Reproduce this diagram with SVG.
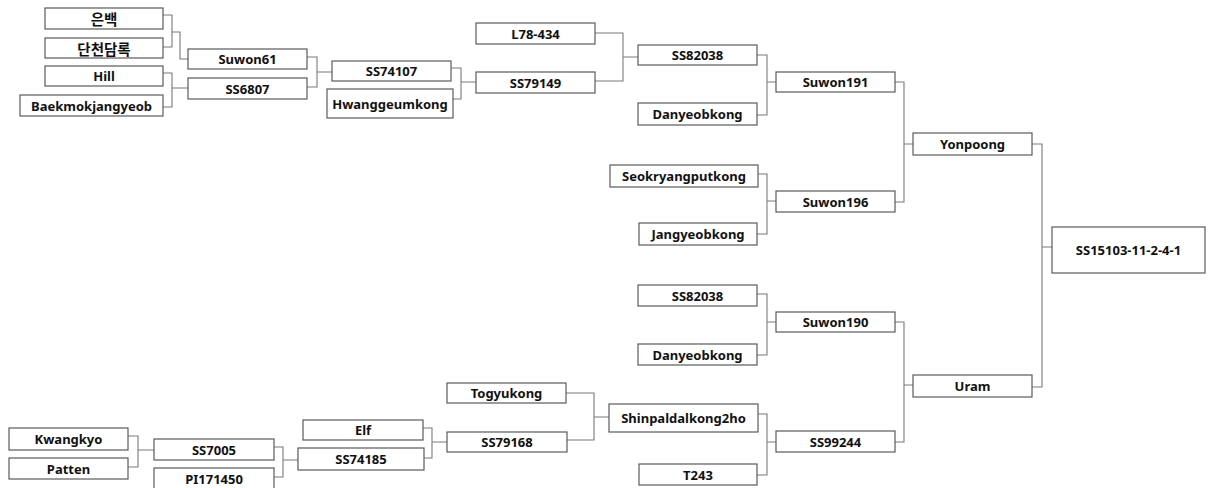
<svg xmlns="http://www.w3.org/2000/svg" width="1208" height="488" viewBox="0 0 1208 488">
<style>
rect{fill:#fff;stroke:#5a5a5a;stroke-width:1.2}
text{font-family:"Noto Sans","Noto Sans CJK KR",sans-serif;font-weight:bold;font-size:13px;fill:#111;text-anchor:middle;dominant-baseline:central}
text.ko{font-family:"Noto Sans CJK KR",sans-serif;font-size:14.5px}
.c path{fill:none;stroke:#7a7a7a;stroke-width:1.1}
</style>
<rect x="0" y="0" width="1208" height="488" style="fill:#fff;stroke:none"/>
<g class="c" id="connectors">
<path d="M163 15H172V47H163M172 32H180V59H188"/>
<path d="M163 73H172V107H163M172 88H188"/>
<path d="M307 57H317V87H307M317 72H332"/>
<path d="M451 68H461V99H453M461 82H476"/>
<path d="M595 33H623V81H595M623 57H638"/>
<path d="M757 55H767V115H757M767 82H776"/>
<path d="M758 174H767V234H757M767 201H776"/>
<path d="M895 82H904V202H895M904 144H913"/>
<path d="M1032 144H1042V387H1032M1042 247H1052"/>
<path d="M757 294H767V355H757M767 322H776"/>
<path d="M758 414H767V475H757M767 442H776"/>
<path d="M895 322H904V442H895M904 385H913"/>
<path d="M566 393H594V440H567M594 417H609"/>
<path d="M423 428H432V458H424M432 442H447"/>
<path d="M128 436H138V467H128M138 450H154"/>
<path d="M274 447H283V477H274M283 460H298"/>
</g>
<g id="n1"><rect x="45" y="8" width="118" height="21"/><text class="ko" x="104" y="18.5">은백</text></g>
<g id="n2"><rect x="45" y="38" width="118" height="20"/><text class="ko" x="104" y="48">단천담록</text></g>
<g id="n3"><rect x="45" y="66" width="118" height="20"/><text x="104" y="76">Hill</text></g>
<g id="n4"><rect x="20" y="95" width="143" height="21"/><text x="91.5" y="105.5">Baekmokjangyeob</text></g>
<g id="n5"><rect x="188" y="49" width="119" height="20"/><text x="247.5" y="59">Suwon61</text></g>
<g id="n6"><rect x="188" y="78" width="119" height="21"/><text x="247.5" y="88.5">SS6807</text></g>
<g id="n7"><rect x="332" y="61" width="119" height="20"/><text x="391.5" y="71">SS74107</text></g>
<g id="n8"><rect x="327" y="89" width="126" height="29"/><text x="390" y="103.5">Hwanggeumkong</text></g>
<g id="n9"><rect x="476" y="23" width="119" height="21"/><text x="535.5" y="33.5">L78-434</text></g>
<g id="n10"><rect x="476" y="72" width="119" height="21"/><text x="535.5" y="82.5">SS79149</text></g>
<g id="n11"><rect x="638" y="45" width="119" height="20"/><text x="697.5" y="55">SS82038</text></g>
<g id="n12"><rect x="638" y="103" width="119" height="22"/><text x="697.5" y="114">Danyeobkong</text></g>
<g id="n13"><rect x="776" y="72" width="119" height="20"/><text x="835.5" y="82">Suwon191</text></g>
<g id="n14"><rect x="610" y="165" width="148" height="22"/><text x="684" y="176">Seokryangputkong</text></g>
<g id="n15"><rect x="639" y="223" width="118" height="22"/><text x="698" y="234">Jangyeobkong</text></g>
<g id="n16"><rect x="776" y="191" width="119" height="21"/><text x="835.5" y="201.5">Suwon196</text></g>
<g id="n17"><rect x="913" y="133" width="119" height="22"/><text x="972.5" y="144">Yonpoong</text></g>
<g id="n18"><rect x="1052" y="227" width="153" height="46"/><text x="1128.5" y="250">SS15103-11-2-4-1</text></g>
<g id="n19"><rect x="638" y="285" width="119" height="21"/><text x="697.5" y="295.5">SS82038</text></g>
<g id="n20"><rect x="638" y="344" width="119" height="21"/><text x="697.5" y="354.5">Danyeobkong</text></g>
<g id="n21"><rect x="776" y="312" width="119" height="20"/><text x="835.5" y="322">Suwon190</text></g>
<g id="n22"><rect x="609" y="404" width="149" height="28"/><text x="683.5" y="418">Shinpaldalkong2ho</text></g>
<g id="n23"><rect x="639" y="464" width="118" height="21"/><text x="698" y="474.5">T243</text></g>
<g id="n24"><rect x="776" y="431" width="119" height="21"/><text x="835.5" y="441.5">SS99244</text></g>
<g id="n25"><rect x="913" y="375" width="119" height="22"/><text x="972.5" y="386">Uram</text></g>
<g id="n26"><rect x="447" y="383" width="119" height="20"/><text x="506.5" y="393">Togyukong</text></g>
<g id="n27"><rect x="447" y="432" width="120" height="20"/><text x="507" y="442">SS79168</text></g>
<g id="n28"><rect x="303" y="420" width="120" height="20"/><text x="363" y="430">Elf</text></g>
<g id="n29"><rect x="298" y="448" width="126" height="22"/><text x="361" y="459">SS74185</text></g>
<g id="n30"><rect x="9" y="428" width="119" height="22"/><text x="68.5" y="439">Kwangkyo</text></g>
<g id="n31"><rect x="9" y="458" width="119" height="21"/><text x="68.5" y="468.5">Patten</text></g>
<g id="n32"><rect x="154" y="439" width="120" height="21"/><text x="214" y="449.5">SS7005</text></g>
<g id="n33"><rect x="154" y="468" width="120" height="25"/><text x="214" y="479">PI171450</text></g>
</svg>
